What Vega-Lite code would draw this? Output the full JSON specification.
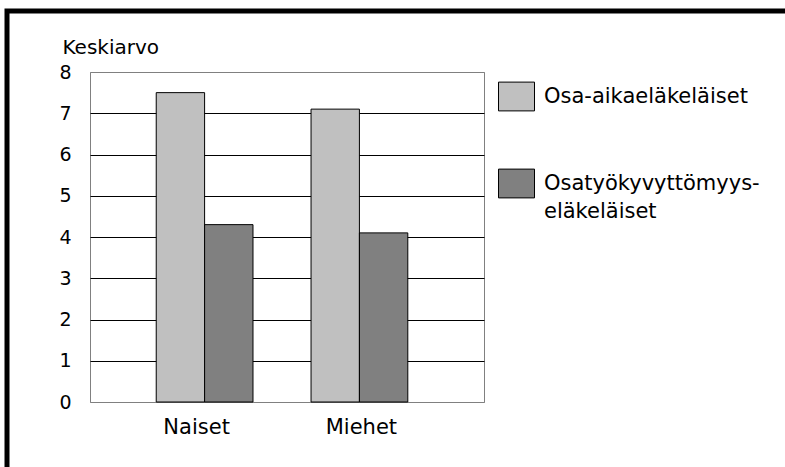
{
  "$schema": "https://vega.github.io/schema/vega-lite/v6.json",
  "autosize": "none",
  "width": 394,
  "height": 330,
  "padding": {"left": 90, "top": 72, "right": 301, "bottom": 65},
  "background": "white",
  "config": {
    "font": "DejaVu Sans",
    "view": {"stroke": "#808080", "strokeWidth": 1},
    "legend": {"strokeWidth": 5}
  },
  "data": {
    "values": [
      {"ryhma": "Naiset", "sarja": "Osa-aikaeläkeläiset", "keskiarvo": 7.5},
      {"ryhma": "Naiset", "sarja": "Osatyökyvyttömyyseläkeläiset", "keskiarvo": 4.3},
      {"ryhma": "Miehet", "sarja": "Osa-aikaeläkeläiset", "keskiarvo": 7.1},
      {"ryhma": "Miehet", "sarja": "Osatyökyvyttömyyseläkeläiset", "keskiarvo": 4.1}
    ]
  },
  "mark": {"type": "bar", "stroke": "black", "strokeWidth": 1},
  "encoding": {
    "x": {
      "field": "ryhma",
      "type": "nominal",
      "sort": ["Naiset", "Miehet"],
      "scale": {"paddingInner": 0.375, "paddingOuter": 0.46, "align": 0.465},
      "axis": {
        "title": null,
        "labelAngle": 0,
        "ticks": false,
        "domain": false,
        "labelFontSize": 21,
        "labelColor": "black",
        "labelPadding": 14,
        "labelOffset": {"condition": {"test": "datum.value === 'Naiset'", "value": -8}, "value": 2}
      }
    },
    "xOffset": {
      "field": "sarja",
      "type": "nominal",
      "sort": ["Osa-aikaeläkeläiset", "Osatyökyvyttömyyseläkeläiset"],
      "scale": {"paddingInner": 0, "paddingOuter": 0}
    },
    "y": {
      "field": "keskiarvo",
      "type": "quantitative",
      "scale": {"domain": [0, 8], "nice": false},
      "axis": {
        "values": [0, 1, 2, 3, 4, 5, 6, 7, 8],
        "ticks": false,
        "domain": false,
        "labelFontSize": 19,
        "labelColor": "black",
        "labelPadding": 19,
        "gridColor": {"condition": {"test": "datum.value === 0 || datum.value === 8", "value": "#808080"}, "value": "black"},
        "gridOpacity": 1,
        "title": "Keskiarvo",
        "titleAngle": 0,
        "titleAlign": "left",
        "titleBaseline": "middle",
        "titleX": -28,
        "titleY": -25,
        "titleFontSize": 20,
        "titleFontWeight": "normal",
        "titleColor": "black"
      }
    },
    "color": {
      "field": "sarja",
      "type": "nominal",
      "scale": {"domain": ["Osa-aikaeläkeläiset", "Osatyökyvyttömyyseläkeläiset"], "range": ["#C0C0C0", "#808080"]},
      "legend": {
        "title": null,
        "orient": "none",
        "legendX": 408,
        "legendY": 6,
        "padding": 0,
        "symbolType": "M-1,-0.8H1V0.8H-1Z",
        "symbolSize": 1296,
        "symbolStrokeColor": "black",
        "symbolStrokeWidth": 1,
        "labelFontSize": 21,
        "labelColor": "black",
        "labelOffset": 9,
        "labelLimit": 400,
        "rowPadding": 52,
        "labelExpr": "datum.label == 'Osatyökyvyttömyyseläkeläiset' ? ['Osatyökyvyttömyys-', 'eläkeläiset'] : datum.label",
        "encode": {"labels": {"update": {"lineHeight": {"value": 28}}}}
      }
    },
    "opacity": {
      "field": "ryhma",
      "type": "nominal",
      "scale": {"range": [1, 1]},
      "legend": {
        "title": null,
        "orient": "none",
        "legendX": -83,
        "legendY": -61,
        "padding": 600,
        "symbolOpacity": 0,
        "labelExpr": "''",
        "strokeColor": "black",
        "cornerRadius": 0,
        "encode": {"legend": {"update": {"stroke": {"value": "black"}, "strokeWidth": {"value": 5}}}}
      }
    }
  }
}
